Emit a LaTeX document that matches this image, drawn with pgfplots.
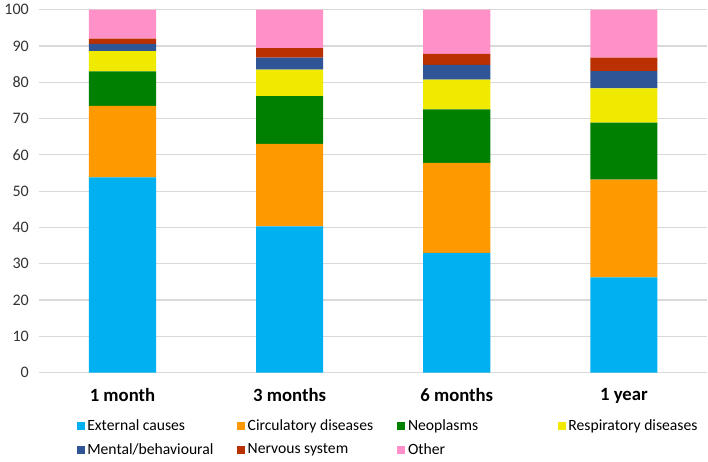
\documentclass[border=0pt]{standalone}
\usepackage{pgfplots}
\pgfplotsset{compat=1.18}
\usepackage{fontspec}
\setmainfont{Carlito}
\definecolor{cExt}{HTML}{00B0F0}
\definecolor{cCirc}{HTML}{FF9900}
\definecolor{cNeo}{HTML}{008000}
\definecolor{cResp}{HTML}{F0EA00}
\definecolor{cMent}{HTML}{2F5597}
\definecolor{cNerv}{HTML}{BA3000}
\definecolor{cOth}{HTML}{FF91C8}
\definecolor{cGrid}{HTML}{D9D9D9}
\newcommand\lentry[1]{\makebox[110pt][l]{#1}}
\begin{document}
\begin{tikzpicture}
\begin{axis}[
  scale only axis,
  width=500.25pt, height=271.5pt,
  ybar stacked, bar width=50.25pt,
  xmin=-0.5, xmax=3.5, ymin=0, ymax=100,
  xtick=data,
  xticklabels={1 month,3 months,6 months,1 year},
  x tick label style={font=\fontsize{14}{16}\selectfont\bfseries, yshift=-8pt},
  ytick={0,10,...,100},
  y tick label style={font=\fontsize{12}{14}\selectfont, text=black!80},
  /pgf/number format/assume math mode=true,
  ymajorgrids, grid style={cGrid, line width=0.8pt},
  axis line style={draw=none},
  major tick length=0pt,
  yticklabel style={xshift=-4pt},
  legend columns=4,
  legend cell align=left,
  legend style={draw=none, at={(0.05,-0.115)}, anchor=north west,
    font=\fontsize{11.7}{14}\selectfont,
    /tikz/every even column/.append style={column sep=0pt},
    row sep=4pt},
  legend image code/.code={\fill[#1] (0pt,-3pt) rectangle (6pt,3pt);},
  every axis plot/.append style={draw=none},
]
\addplot[fill=cExt]  coordinates {(0,53.8) (1,40.3) (2,33.0) (3,26.2)};
\addplot[fill=cCirc] coordinates {(0,19.7) (1,22.7) (2,24.8) (3,27.0)};
\addplot[fill=cNeo]  coordinates {(0,9.5) (1,13.2) (2,14.7) (3,15.7)};
\addplot[fill=cResp] coordinates {(0,5.6) (1,7.3) (2,8.2) (3,9.4)};
\addplot[fill=cMent] coordinates {(0,2.0) (1,3.3) (2,4.1) (3,4.8)};
\addplot[fill=cNerv] coordinates {(0,1.4) (1,2.6) (2,3.0) (3,3.7)};
\addplot[fill=cOth]  coordinates {(0,8.0) (1,10.6) (2,12.2) (3,13.2)};
\legend{\lentry{External causes},\lentry{Circulatory diseases},\lentry{Neoplasms},Respiratory diseases,\lentry{Mental/behavioural},\lentry{Nervous system},\lentry{Other}}
\end{axis}
\end{tikzpicture}
\end{document}
